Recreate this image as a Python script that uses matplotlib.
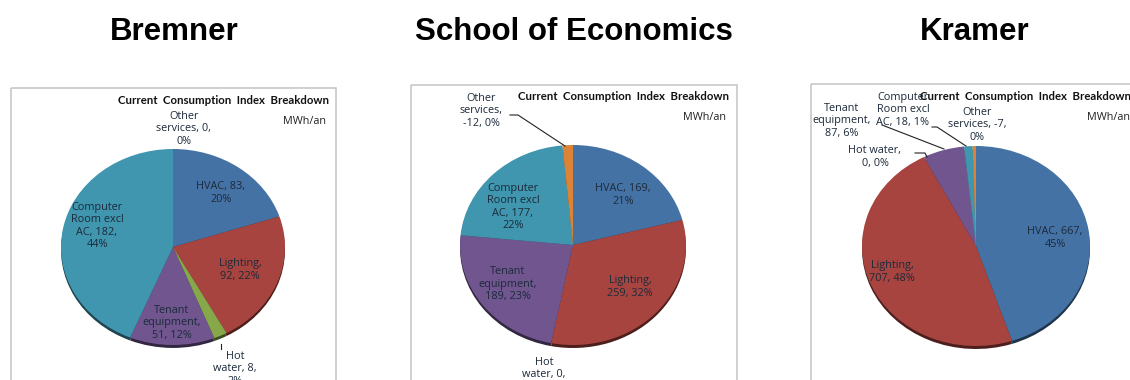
import numpy as np
import matplotlib
matplotlib.use("Agg")
import matplotlib.pyplot as plt
from matplotlib.patches import Rectangle
from matplotlib.colors import to_rgb

# Consumption per end use, MWh/an
buildings = ["Bremner", "School of Economics", "Kramer"]
uses = ["HVAC", "Lighting", "Hot water", "Tenant equipment", "Computer Room excl AC", "Other services"]
bremner = [83, 92, 8, 51, 182, 0]
economics = [169, 259, 0, 189, 177, -12]
kramer = [667, 707, 0, 87, 18, -7]

bremner_labels = ["HVAC, 83,\n20%", "Lighting,\n92, 22%", "Hot\nwater, 8,\n2%",
                  "Tenant\nequipment,\n51, 12%", "Computer\nRoom excl\nAC, 182,\n44%", "Other\nservices, 0,\n0%"]
economics_labels = ["HVAC, 169,\n21%", "Lighting,\n259, 32%", "Hot\nwater, 0,\n0%",
                    "Tenant\nequipment,\n189, 23%", "Computer\nRoom excl\nAC, 177,\n22%", "Other\nservices,\n-12, 0%"]
kramer_labels = ["HVAC, 667,\n45%", "Lighting,\n707, 48%", "Hot water,\n0, 0%",
                 "Tenant\nequipment,\n87, 6%", "Computer\nRoom excl\nAC, 18, 1%", "Other\nservices, -7,\n0%"]

colors = ["#4572A5", "#A8443F", "#86A84A", "#70558F", "#4096AF", "#DB8437"]
W, H = 1130, 380

# layout in pixels
panels = [
    dict(values=bremner, labels=bremner_labels, title_x=174, box=(11, 88, 325, 300), cx=173, cy=247, rx=112, ry=98,
         head_x=224, unit_x=305, head_y=100, unit_y=121,
         pos=[(221, 193), (240, 270), (235, 369), (172, 323), (97, 226), (184, 129)],
         leaders=[[(221, 344), (221, 349)]]),
    dict(values=economics, labels=economics_labels, title_x=574, box=(411, 85, 326, 303), cx=573, cy=245, rx=113, ry=100,
         head_x=624, unit_x=705, head_y=96, unit_y=117,
         pos=[(623, 195), (630, 287), (544, 375), (508, 284), (513, 207), (481, 111)],
         leaders=[[(510, 115), (518, 115), (565, 146)]]),
    dict(values=kramer, labels=kramer_labels, title_x=975, box=(811, 84, 340, 304), cx=976, cy=246, rx=114, ry=100,
         head_x=1025, unit_x=1109, head_y=96, unit_y=117,
         pos=[(1055, 238), (892, 272), (875, 157), (842, 121), (903, 110), (977, 125)],
         leaders=[[(882, 125), (944, 149)], [(932, 127), (937, 127), (966, 146)],
                  [(915, 153), (925, 153), (927, 157)]]),
]

fig = plt.figure(figsize=(W / 100, H / 100), dpi=100, facecolor="white")

# overlay in pixel units for frames, text and leader lines
overlay = fig.add_axes([0, 0, 1, 1], zorder=5)
overlay.set_xlim(0, W)
overlay.set_ylim(H, 0)
overlay.axis("off")
overlay.patch.set_alpha(0)

for name, p in zip(buildings, panels):
    overlay.text(p["title_x"], 32, name, ha="center", va="center", fontsize=22.5,
                 fontweight="bold", family="Liberation Sans", color="black", zorder=6)

    x, y, w, h = p["box"]
    frame = Rectangle((x, y), w, h, facecolor="none", edgecolor="#C4C4C4", lw=1.1)
    overlay.add_patch(frame)

    sizes = np.abs(p["values"])

    # pie axes sized in pixels, squashed so the pie reads as tilted
    left = (p["cx"] - p["rx"]) / W
    bottom = 1 - (p["cy"] + p["ry"]) / H
    ax = fig.add_axes([left, bottom, 2 * p["rx"] / W, 2 * p["ry"] / H], zorder=2)
    dark = [tuple(c * 0.45 for c in to_rgb(col)) for col in colors]
    ax.pie(sizes, colors=dark, startangle=90, counterclock=False, radius=1, center=(0, -0.03))
    ax.pie(sizes, colors=colors, startangle=90, counterclock=False, radius=1, center=(0, 0))
    ax.set_aspect("auto")
    ax.set_xlim(-1, 1)
    ax.set_ylim(-1, 1)
    ax.axis("off")

    for label, (lx, ly) in zip(p["labels"], p["pos"]):
        overlay.text(lx, ly, label, ha="center", va="center", fontsize=7.8, family="Open Sans",
                     color="#1C2A3A", linespacing=1.2)
    for pts in p["leaders"]:
        xs, ys = zip(*pts)
        overlay.plot(xs, ys, color="#222222", lw=0.8)

    overlay.text(p["head_x"], p["head_y"], "Current  Consumption  Index  Breakdown", ha="center", va="center",
                 fontsize=8.2, fontweight="bold", family="Lato", color="#111111", zorder=6)
    overlay.text(p["unit_x"], p["unit_y"], "MWh/an", ha="center", va="center", fontsize=7.8,
                 family="Open Sans", color="#222222")

fig.savefig("out.png", dpi=100)
plt.close(fig)
